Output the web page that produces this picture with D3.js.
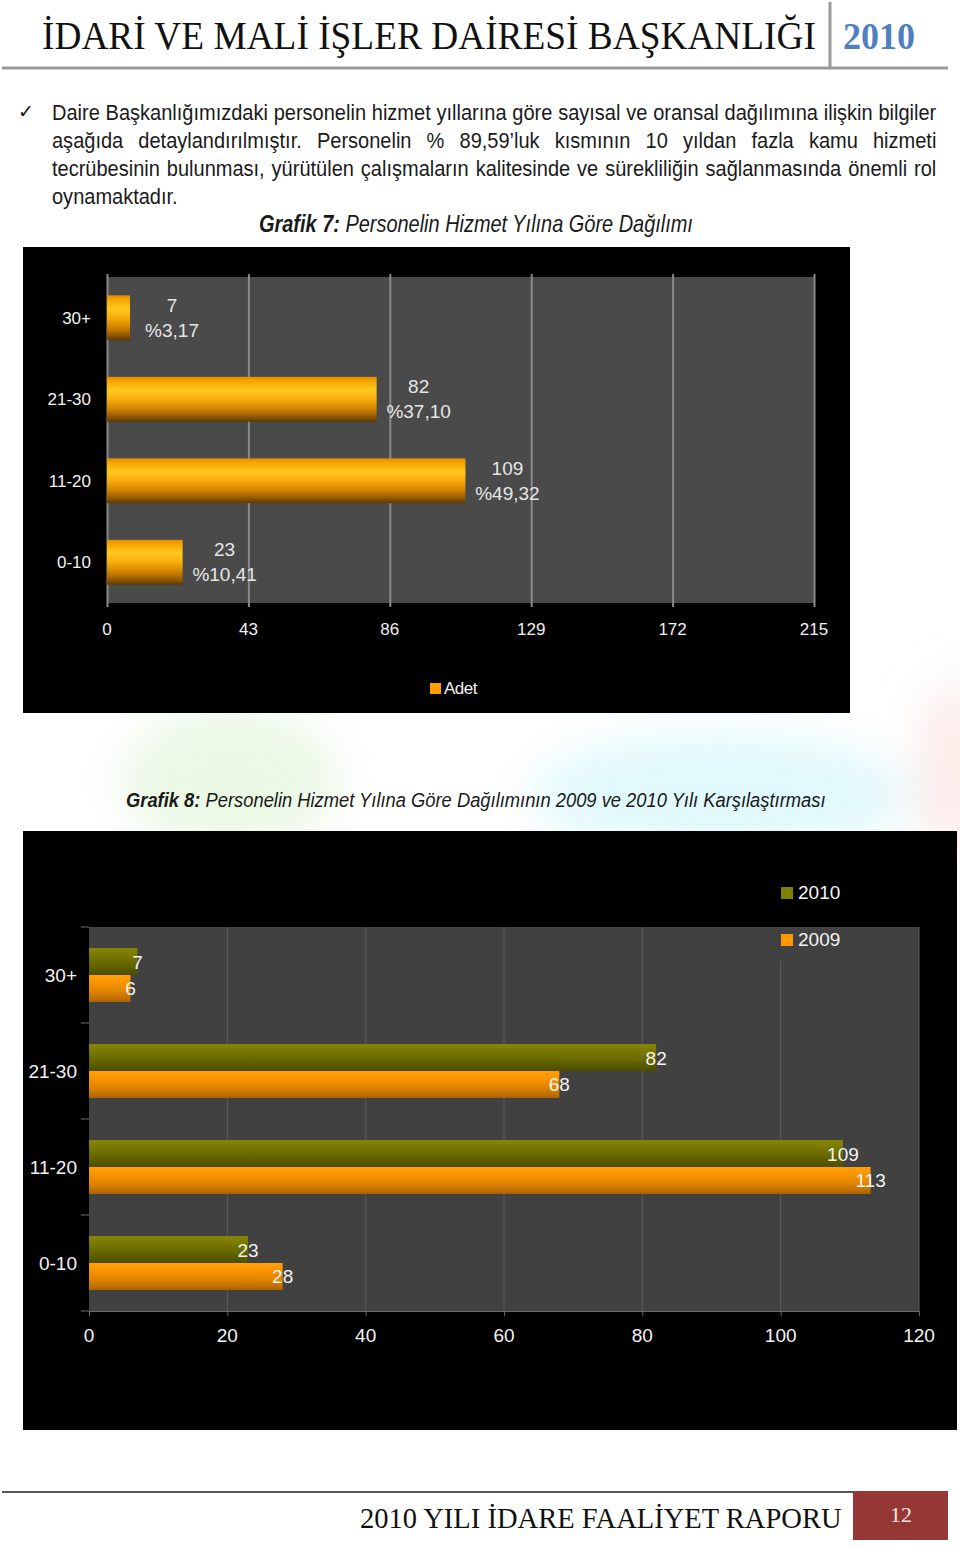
<!DOCTYPE html>
<html><head><meta charset="utf-8">
<script src="https://cdn.jsdelivr.net/npm/d3@7"></script>
<style>
html,body{margin:0;padding:0;background:#fff;}
svg{display:block;}
</style></head>
<body>
<svg id="page" width="960" height="1546"></svg>
<script>
// ---------- DATA ----------
const categories = ["30+", "21-30", "11-20", "0-10"];
const adet = [7, 82, 109, 23];
const percents = ["%3,17", "%37,10", "%49,32", "%10,41"];
const ticks1 = [0, 43, 86, 129, 172, 215];
const legend1 = ["Adet"];

const years = ["2010", "2009"];
const values2010 = [7, 82, 109, 23];
const values2009 = [6, 68, 113, 28];
const ticks2 = [0, 20, 40, 60, 80, 100, 120];

const headerTitle = "İDARİ VE MALİ İŞLER DAİRESİ BAŞKANLIĞI";
const headerYear = "2010";
const paragraphLines = [
  "Daire Başkanlığımızdaki personelin hizmet yıllarına göre sayısal ve oransal dağılımına ilişkin bilgiler",
  "aşağıda detaylandırılmıştır. Personelin % 89,59’luk kısmının 10 yıldan fazla kamu hizmeti",
  "tecrübesinin bulunması, yürütülen çalışmaların kalitesinde ve sürekliliğin sağlanmasında önemli rol",
  "oynamaktadır."
];
const caption7 = ["Grafik 7:", " Personelin Hizmet Yılına Göre Dağılımı"];
const caption8 = ["Grafik 8:", " Personelin Hizmet Yılına Göre Dağılımının 2009 ve 2010 Yılı Karşılaştırması"];
const footerText = "2010 YILI İDARE FAALİYET RAPORU";
const pageNo = "12";

// ---------- PAGE ----------
const svg = d3.select("#page");
const defs = svg.append("defs");

const blur = defs.append("filter").attr("id", "blur").attr("x", "-50%").attr("y", "-50%").attr("width", "200%").attr("height", "200%");
blur.append("feGaussianBlur").attr("stdDeviation", 24);

function grad(id, stops) {
  const g = defs.append("linearGradient").attr("id", id).attr("x1", 0).attr("y1", 0).attr("x2", 0).attr("y2", 1);
  stops.forEach(s => g.append("stop").attr("offset", s[0]).attr("stop-color", s[1]));
}
grad("gOrange1", [[0, "#e08c00"], [0.08, "#f5a200"], [0.3, "#ffc81f"], [0.5, "#f9ac0c"], [0.72, "#d08200"], [0.9, "#8e5600"], [1, "#5e3900"]]);
grad("gOlive", [[0, "#8a8a08"], [0.12, "#808000"], [0.55, "#6a6a00"], [1, "#4a4c00"]]);
grad("gOrange2", [[0, "#ffa00a"], [0.2, "#ff9800"], [0.6, "#e08500"], [1, "#b06400"]]);

// watermark (faint background)
const wm = svg.append("g").attr("filter", "url(#blur)").attr("opacity", 0.55);
wm.append("ellipse").attr("cx", 230).attr("cy", 780).attr("rx", 110).attr("ry", 70).attr("fill", "#d9f3cf");
wm.append("ellipse").attr("cx", 720).attr("cy", 795).attr("rx", 190).attr("ry", 60).attr("fill", "#c8f4fa");
wm.append("ellipse").attr("cx", 955).attr("cy", 770).attr("rx", 35).attr("ry", 90).attr("fill", "#f8d9d4");

// helper: horizontally scaled (narrow) text, optionally justified to a width
function fitText(x, y, parts, opts) {
  const g = svg.append("g");
  const texts = parts.map(p => g.append("text").attr("y", 0)
    .attr("font-family", opts.family).attr("font-size", opts.size)
    .attr("font-style", p.italic ? "italic" : null).attr("font-weight", p.bold ? "bold" : null)
    .attr("fill", opts.fill).style("white-space", "pre").text(p.text));
  let widths = texts.map(t => t.node().getComputedTextLength());
  let total = d3.sum(widths);
  let sx = opts.sx || 1, ws = 0;
  if (opts.width) {
    if (opts.justify) {
      const n = (parts.map(p => p.text).join("").match(/ /g) || []).length;
      if (total * sx > opts.width) sx = opts.width / total;
      else ws = (opts.width / sx - total) / n;
      texts.forEach(t => t.attr("word-spacing", ws));
      widths = texts.map(t => t.node().getComputedTextLength());
    } else {
      sx = opts.width / total;
    }
  }
  let cx = 0;
  texts.forEach((t, i) => { t.attr("x", cx); cx += widths[i]; });
  g.attr("transform", `translate(${x},${y}) scale(${sx},1)`);
  return g;
}

// header
const serif = "'Liberation Serif','DejaVu Serif',serif";
fitText(42, 49, [{ text: headerTitle }], { family: serif, size: 40, fill: "#111", width: 774 });
svg.append("line").attr("x1", 830).attr("x2", 830).attr("y1", 2).attr("y2", 68).attr("stroke", "#9a9a9a").attr("stroke-width", 3);
fitText(843, 49, [{ text: headerYear, bold: true }], { family: serif, size: 37, fill: "#4f7fbf", width: 72 });
svg.append("line").attr("x1", 2).attr("x2", 948).attr("y1", 68).attr("y2", 68).attr("stroke", "#9a9a9a").attr("stroke-width", 3);

// paragraph
const sansFam = "'Liberation Sans',Arial,Helvetica,sans-serif";
svg.append("text").attr("x", 18).attr("y", 118).attr("font-family", "'DejaVu Sans',sans-serif").attr("font-size", 19).attr("fill", "#111").text("✓");
paragraphLines.forEach((l, i) => {
  const last = i === paragraphLines.length - 1;
  fitText(52, 120 + i * 28, [{ text: l }], { family: sansFam, size: 22, fill: "#1a1a1a", sx: 0.91, width: last ? null : 885, justify: !last });
});

fitText(259, 232, [{ text: caption7[0], bold: true, italic: true }, { text: caption7[1], italic: true }], { family: sansFam, size: 23, fill: "#1a1a1a", width: 434 });
fitText(126, 807, [{ text: caption8[0], bold: true, italic: true }, { text: caption8[1], italic: true }], { family: sansFam, size: 21, fill: "#1a1a1a", width: 700 });

// ---------- CHART 1 ----------
const sans = sansFam;
const c1 = svg.append("g");
c1.append("rect").attr("x", 23).attr("y", 247).attr("width", 827).attr("height", 466).attr("fill", "#000");
const x1 = d3.scaleLinear().domain([0, 215]).range([107, 814]);
const y1 = d3.scaleBand().domain(categories).range([277, 603]).paddingInner(0.45).paddingOuter(0.225);
c1.append("rect").attr("x", x1(0)).attr("y", 277).attr("width", x1(215) - x1(0)).attr("height", 326).attr("fill", "#4a4a4a");
const ax1 = c1.append("g").attr("transform", "translate(0,603)")
  .call(d3.axisBottom(x1).tickValues(ticks1).tickSize(330).tickFormat(""));
ax1.select(".domain").remove();
ax1.selectAll(".tick line").attr("stroke", "#8a8a8a").attr("stroke-width", 2).attr("y1", -329).attr("y2", 4);
c1.selectAll("text.t1").data(ticks1).join("text").attr("class", "t1")
  .attr("x", d => x1(d)).attr("y", 635).attr("text-anchor", "middle")
  .attr("font-family", sans).attr("font-size", 17).attr("fill", "#f2f2f2").text(d => d);
c1.selectAll("text.c1").data(categories).join("text").attr("class", "c1")
  .attr("x", 91).attr("y", d => y1(d) + y1.bandwidth() / 2 + 6).attr("text-anchor", "end")
  .attr("font-family", sans).attr("font-size", 17).attr("fill", "#f2f2f2").text(d => d);
c1.selectAll("rect.b1").data(adet).join("rect").attr("class", "b1")
  .attr("x", x1(0)).attr("y", (d, i) => y1(categories[i]))
  .attr("width", d => x1(d) - x1(0)).attr("height", y1.bandwidth())
  .attr("fill", "url(#gOrange1)");
const lab1 = c1.selectAll("g.l1").data(adet).join("g").attr("class", "l1");
lab1.append("text").attr("x", d => x1(d) + 42).attr("y", (d, i) => y1(categories[i]) + y1.bandwidth() / 2 - 6)
  .attr("text-anchor", "middle").attr("font-family", sans).attr("font-size", 19).attr("fill", "#e6e6e6").text(d => d);
lab1.append("text").attr("x", d => x1(d) + 42).attr("y", (d, i) => y1(categories[i]) + y1.bandwidth() / 2 + 19)
  .attr("text-anchor", "middle").attr("font-family", sans).attr("font-size", 19).attr("fill", "#e6e6e6").text((d, i) => percents[i]);
c1.append("rect").attr("x", 430).attr("y", 683).attr("width", 11).attr("height", 11).attr("fill", "#ffa000");
c1.append("text").attr("x", 444).attr("y", 694).attr("font-family", sans).attr("font-size", 17).attr("letter-spacing", -0.5).attr("fill", "#f2f2f2").text(legend1[0]);

// ---------- CHART 2 ----------
const c2 = svg.append("g");
c2.append("rect").attr("x", 23).attr("y", 831).attr("width", 934).attr("height", 599).attr("fill", "#000");
const x2 = d3.scaleLinear().domain([0, 120]).range([89, 919]);
const y2 = d3.scaleBand().domain(categories).range([927, 1311]).paddingInner(0.44).paddingOuter(0.22);
const y2s = d3.scaleBand().domain(years).range([0, y2.bandwidth()]);
c2.append("rect").attr("x", x2(0)).attr("y", 927).attr("width", x2(120) - x2(0)).attr("height", 384).attr("fill", "#414141");
const ax2 = c2.append("g").attr("transform", "translate(0,1311)")
  .call(d3.axisBottom(x2).tickValues(ticks2).tickSize(5).tickFormat(""));
ax2.select(".domain").attr("stroke", "#6a6a6a");
ax2.selectAll(".tick line").attr("stroke", "#6a6a6a");
c2.selectAll("line.g2").data(ticks2.slice(1)).join("line").attr("class", "g2")
  .attr("x1", d => x2(d)).attr("x2", d => x2(d)).attr("y1", 927).attr("y2", 1311)
  .attr("stroke", "#5c5c5c").attr("stroke-width", 1);
const bounds = d3.range(categories.length + 1).map(i => 927 + i * y2.step());
c2.selectAll("line.lt").data(bounds).join("line").attr("class", "lt")
  .attr("x1", 81).attr("x2", 89).attr("y1", d => d).attr("y2", d => d).attr("stroke", "#6a6a6a");
c2.append("rect").attr("x", 776).attr("y", 927).attr("width", 90).attr("height", 34).attr("fill", "#414141");
c2.selectAll("text.t2").data(ticks2).join("text").attr("class", "t2")
  .attr("x", d => x2(d)).attr("y", 1342).attr("text-anchor", "middle")
  .attr("font-family", sans).attr("font-size", 19).attr("fill", "#f2f2f2").text(d => d);
c2.selectAll("text.c2").data(categories).join("text").attr("class", "c2")
  .attr("x", 77).attr("y", d => y2(d) + y2.bandwidth() / 2 + 7).attr("text-anchor", "end")
  .attr("font-family", sans).attr("font-size", 19).attr("fill", "#f2f2f2").text(d => d);
const series = [{ year: "2010", vals: values2010, fill: "url(#gOlive)" }, { year: "2009", vals: values2009, fill: "url(#gOrange2)" }];
series.forEach(s => {
  c2.selectAll("rect.b" + s.year).data(s.vals).join("rect").attr("class", "b" + s.year)
    .attr("x", x2(0)).attr("y", (d, i) => y2(categories[i]) + y2s(s.year))
    .attr("width", d => x2(d) - x2(0)).attr("height", y2s.bandwidth()).attr("fill", s.fill);
});
series.forEach(s => {
  c2.selectAll("text.v" + s.year).data(s.vals).join("text").attr("class", "v" + s.year)
    .attr("x", d => x2(d)).attr("y", (d, i) => y2(categories[i]) + y2s(s.year) + y2s.bandwidth() / 2 + 7)
    .attr("text-anchor", "middle").attr("font-family", sans).attr("font-size", 19).attr("fill", "#f4f4f4").text(d => d);
});
const leg2Colors = { "2010": "#808000", "2009": "#ff9900" };
years.forEach((yv, i) => {
  c2.append("rect").attr("x", 781).attr("y", 887 + i * 47).attr("width", 12).attr("height", 12).attr("fill", leg2Colors[yv]);
  c2.append("text").attr("x", 798).attr("y", 899 + i * 47).attr("font-family", sans).attr("font-size", 19).attr("fill", "#f4f4f4").text(yv);
});

// ---------- FOOTER ----------
svg.append("line").attr("x1", 2).attr("x2", 853).attr("y1", 1492).attr("y2", 1492).attr("stroke", "#555").attr("stroke-width", 2);
svg.append("rect").attr("x", 853).attr("y", 1491).attr("width", 95).attr("height", 49).attr("fill", "#953735");
fitText(360, 1528, [{ text: footerText }], { family: serif, size: 29, fill: "#111", width: 482 });
svg.append("text").attr("x", 901).attr("y", 1522).attr("text-anchor", "middle").attr("font-family", serif)
  .attr("font-size", 22).attr("fill", "#f3e6e6").text(pageNo);
</script>
</body></html>
